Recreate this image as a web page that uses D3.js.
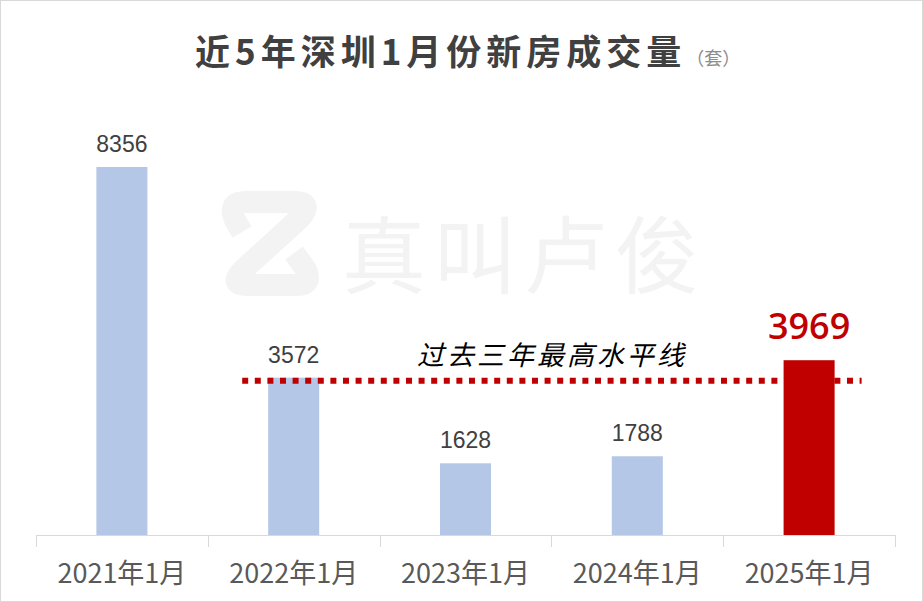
<!DOCTYPE html>
<html><head><meta charset="utf-8">
<script src="https://cdn.jsdelivr.net/npm/d3@7/dist/d3.min.js"></script>
<style>
html,body{margin:0;padding:0;background:#fff;}
svg{display:block;}
</style></head>
<body>
<svg id="chart" width="923" height="602"></svg>
<script>
const categories = ["2021年1月","2022年1月","2023年1月","2024年1月","2025年1月"];
const values = [8356, 3572, 1628, 1788, 3969];
const highlight = "2025年1月";
const pastMax = 3572;
const titleText = "近5年深圳1月份新房成交量";
const unitText = "（套）";
const lineLabel = "过去三年最高水平线";
const watermark = "真叫卢俊";

const W = 923, H = 602;
const svg = d3.select("#chart");
svg.append("rect").attr("x",0.5).attr("y",0.5).attr("width",W-1).attr("height",H-1)
  .attr("fill","#fff").attr("stroke","#d9d9d9");

// watermark
const wm = svg.append("g");
wm.append("path")
  .attr("d","M242,232 L236,222 Q226,202 246,202 L294,202 Q314,202 300,218 L243,270 Q228,285 248,285 L296,285 Q314,285 305,268 L294,253")
  .attr("fill","none").attr("stroke","#f3f3f3").attr("stroke-width",22).attr("stroke-linejoin","round");
wm.append("text").attr("x",342).attr("y",287).text(watermark)
  .attr("font-family","'Noto Sans CJK SC'").attr("font-size",84).attr("font-weight",400)
  .attr("letter-spacing",7).attr("fill","#f3f3f3");

const x = d3.scaleBand().domain(categories).range([36,895]).paddingInner(0.703).paddingOuter(0.3515);
const y = d3.scaleLinear().domain([0,9000]).range([535, 535-9000*0.04404]);
const step = x.step(), bw = x.bandwidth();

// title
const t = svg.append("text").attr("x",195).attr("y",65)
  .attr("font-family","'Noto Sans CJK SC'").attr("font-weight",700).attr("font-size",35)
  .attr("letter-spacing",5).attr("fill","#404040");
t.append("tspan").text(titleText);
t.append("tspan").text(unitText).attr("font-size",18).attr("font-weight",400).attr("fill","#8c8c8c").attr("letter-spacing",0).attr("dx",0);

// bars
svg.selectAll("rect.bar").data(categories).join("rect").attr("class","bar")
  .attr("x",d=>x(d)).attr("width",bw)
  .attr("y",(d,i)=>y(values[i])).attr("height",(d,i)=>y(0)-y(values[i]))
  .attr("fill",d=>d===highlight?"#c00000":"#b4c7e7");

// axis
const ax = svg.append("g");
ax.append("line").attr("x1",x.range()[0]).attr("x2",x.range()[1]).attr("y1",y(0)+0.5).attr("y2",y(0)+0.5)
  .attr("stroke","#d9d9d9");
const tickXs = categories.map(c=>x(c)-(step-bw)/2).concat([x.range()[1]]);
ax.selectAll("line.tick").data(tickXs).join("line").attr("class","tick")
  .attr("x1",d=>Math.round(d)+0.5).attr("x2",d=>Math.round(d)+0.5).attr("y1",y(0)).attr("y2",y(0)+12)
  .attr("stroke","#d9d9d9");
ax.selectAll("text").data(categories).join("text")
  .attr("x",d=>x(d)+bw/2).attr("y",583).attr("text-anchor","middle")
  .attr("font-family","'Liberation Sans Narrow','Noto Sans CJK SC'").attr("font-size",27)
  .attr("fill","#595959").text(d=>d);

// value labels
svg.selectAll("text.val").data(categories).join("text").attr("class","val")
  .attr("x",d=>x(d)+bw/2)
  .attr("y",(d,i)=>y(values[i]) - (d===highlight?21:15))
  .attr("text-anchor","middle")
  .attr("font-family",d=>d===highlight?"'Open Sans'":"'Liberation Sans'")
  .attr("font-weight",d=>d===highlight?600:400)
  .attr("font-size",d=>d===highlight?36:23)
  .attr("fill",d=>d===highlight?"#c00000":"#404040")
  .text((d,i)=>values[i]);

// past max line
const ly = y(pastMax)+3;
svg.append("line").attr("x1",x(categories[1])-26).attr("x2",x(categories[4])+bw+27)
  .attr("y1",ly).attr("y2",ly).attr("stroke","#c00000").attr("stroke-width",6)
  .attr("stroke-dasharray","6 6.6");
svg.append("text").attr("x",552).attr("y",365).attr("text-anchor","middle")
  .attr("font-family","'Noto Sans CJK SC'").attr("font-size",27).attr("font-style","italic")
  .attr("letter-spacing",3).attr("fill","#000").text(lineLabel);
</script>
</body></html>
